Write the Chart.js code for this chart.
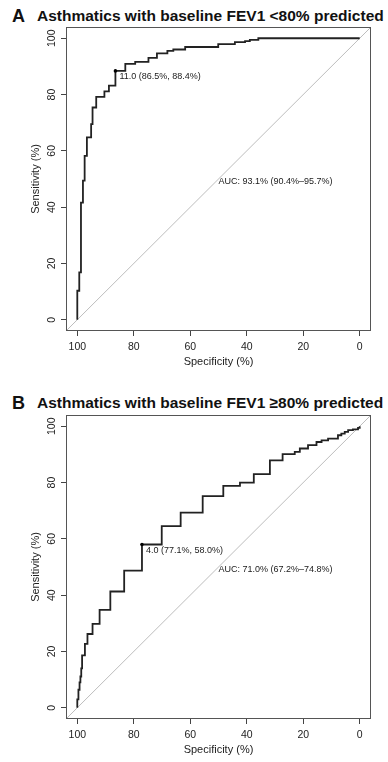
<!DOCTYPE html>
<html>
<head>
<meta charset="utf-8">
<script src="https://cdn.jsdelivr.net/npm/chart.js@4.4.1/dist/chart.umd.min.js"></script>
<style>
  body { margin: 0; background: #fff; width: 388px; height: 762px; position: relative; overflow: hidden; font-family: "Liberation Sans", Arial, sans-serif; }
  .panel { position: absolute; left: 0; width: 388px; }
  .tag { position: absolute; left: 12px; font-weight: bold; font-size: 18px; line-height: 18px; color: #111; }
  .ttl { position: absolute; left: 37px; font-weight: bold; font-size: 15.5px; line-height: 15.5px; color: #111; white-space: nowrap; }
</style>
</head>
<body>
<div class="tag" style="top:7px">A</div>
<div class="ttl" style="top:8px">Asthmatics with baseline FEV1 &lt;80% predicted</div>
<div class="panel" style="top:0; height:380px"><canvas id="rocA" width="388" height="380"></canvas></div>

<div class="tag" style="top:394px">B</div>
<div class="ttl" style="top:395px">Asthmatics with baseline FEV1 ≥80% predicted</div>
<div class="panel" style="top:388px; height:374px"><canvas id="rocB" width="388" height="374"></canvas></div>

<script>
// axis ticks
const xTicks = [100, 80, 60, 40, 20, 0];
const yTicks = [0, 20, 40, 60, 80, 100];

// panel A: specificity / sensitivity (%) at each step of the ROC curve
const specA = [100, 100, 99.3, 98.7, 98.0, 97.4, 96.6, 95.1, 94.6, 93.3, 90.4, 88.8, 86.5,
  83.0, 79.5, 74.8, 71.8, 68.1, 66.0, 61.8, 50.1, 44.2, 40.6, 38.9, 35.9, 0];
const sensA = [0, 10.3, 16.8, 41.6, 49.4, 58.2, 64.8, 69.5, 75.4, 79.2, 81.1, 83.2, 88.4,
  90.9, 91.6, 93.0, 94.6, 95.5, 96.0, 96.9, 97.9, 98.6, 99.0, 99.4, 100, 100];
const cutA = [86.5, 88.4];
const cutLabelA = "11.0 (86.5%, 88.4%)";
const aucLabelA = "AUC: 93.1% (90.4%–95.7%)";

// panel B
const specB = [100, 100, 99.6, 99.2, 98.9, 98.6, 98.3, 97.3, 96.4, 94.6, 92.1, 88.3, 83.4, 77.1,
  70.1, 63.4, 55.6, 48.3, 42.4, 37.5, 31.8, 27.3, 23.0, 21.2, 18.3, 15.3, 13.5, 11.2, 7.7,
  6.5, 5.3, 4.1, 2.4, 0.6, 0];
const sensB = [0, 3.0, 6.4, 9.0, 11.1, 14.0, 18.6, 22.7, 26.2, 29.8, 34.8, 41.3, 48.7, 58.0,
  64.5, 69.3, 75.2, 78.8, 80.0, 83.0, 87.9, 90.1, 90.9, 92.1, 93.3, 94.4, 95.0, 95.6, 96.8,
  97.4, 98.0, 98.6, 98.9, 99.4, 100];
const cutB = [77.1, 58.0];
const cutLabelB = "4.0 (77.1%, 58.0%)";
const aucLabelB = "AUC: 71.0% (67.2%–74.8%)";

// chance line
const chanceSpec = [104, -4];
const chanceSens = [-4, 104];

const FONT = '"Liberation Sans", Arial, sans-serif';

// box around plot + annotation texts
const rocDecor = {
  id: 'rocDecor',
  afterDatasetsDraw(chart, args, opts) {
    const { ctx, chartArea: a, scales: { x, y } } = chart;
    ctx.save();
    ctx.strokeStyle = '#555';
    ctx.lineWidth = 1;
    ctx.strokeRect(Math.round(a.left) + 0.5, Math.round(a.top) + 0.5,
      Math.round(a.right - a.left) - 1, Math.round(a.bottom - a.top) - 1);
    ctx.fillStyle = '#1a1a1a';
    ctx.font = '9px ' + FONT;
    ctx.textAlign = 'left';
    ctx.textBaseline = 'middle';
    ctx.fillText(opts.cutText, x.getPixelForValue(opts.cut[0]) + 4, y.getPixelForValue(opts.cut[1]) + 6);
    ctx.fillText(opts.aucText, x.getPixelForValue(50), y.getPixelForValue(49.2));
    ctx.restore();
  }
};

function makeRoc(id, spec, sens, cut, cutText, aucText, padBottom) {
  const curve = spec.map((s, i) => ({ x: s, y: sens[i] }));
  const chance = chanceSpec.map((s, i) => ({ x: s, y: chanceSens[i] }));
  new Chart(document.getElementById(id), {
    type: 'line',
    data: {
      datasets: [
        { data: [{ x: cut[0], y: cut[1] }], showLine: false, pointRadius: 1.8,
          pointBackgroundColor: '#000', pointBorderWidth: 0, order: 0 },
        { data: curve, stepped: 'before', borderColor: '#222', borderWidth: 1.8,
          pointRadius: 0, fill: false, order: 1 },
        { data: chance, borderColor: '#bdbdbd', borderWidth: 1, pointRadius: 0, order: 2 }
      ]
    },
    options: {
      responsive: false,
      animation: false,
      layout: { padding: { top: 27, right: 17, left: 5, bottom: padBottom } },
      plugins: {
        legend: { display: false },
        tooltip: { enabled: false },
        rocDecor: { cut: cut, cutText: cutText, aucText: aucText }
      },
      scales: {
        x: {
          type: 'linear', reverse: true, min: -4, max: 104,
          afterBuildTicks: s => { s.ticks = xTicks.map(v => ({ value: v })); },
          afterFit: s => { s.height = 40; },
          border: { display: false },
          grid: { drawOnChartArea: false, drawTicks: true, tickLength: 5, color: '#444' },
          ticks: { padding: 5, color: '#222', font: { family: FONT, size: 10.5 }, maxRotation: 0 },
          title: { display: true, text: 'Specificity (%)', color: '#222',
            font: { family: FONT, size: 11 }, padding: { top: 0, bottom: 2 } }
        },
        y: {
          type: 'linear', min: -4, max: 104,
          afterBuildTicks: s => { s.ticks = yTicks.map(v => ({ value: v })); },
          afterFit: s => { s.width = 61; },
          border: { display: false },
          grid: { drawOnChartArea: false, drawTicks: true, tickLength: 5, color: '#444' },
          ticks: { padding: 0, color: '#222', font: { family: FONT, size: 10.5 },
            minRotation: 90, maxRotation: 90, crossAlign: 'center' },
          title: { display: true, text: 'Sensitivity (%)', color: '#222',
            font: { family: FONT, size: 11 }, padding: { top: 24.5, bottom: 0 } }
        }
      }
    },
    plugins: [rocDecor]
  });
}

makeRoc('rocA', specA, sensA, cutA, cutLabelA, aucLabelA, 9);
makeRoc('rocB', specB, sensB, cutB, cutLabelB, aucLabelB, 3);
</script>
</body>
</html>
